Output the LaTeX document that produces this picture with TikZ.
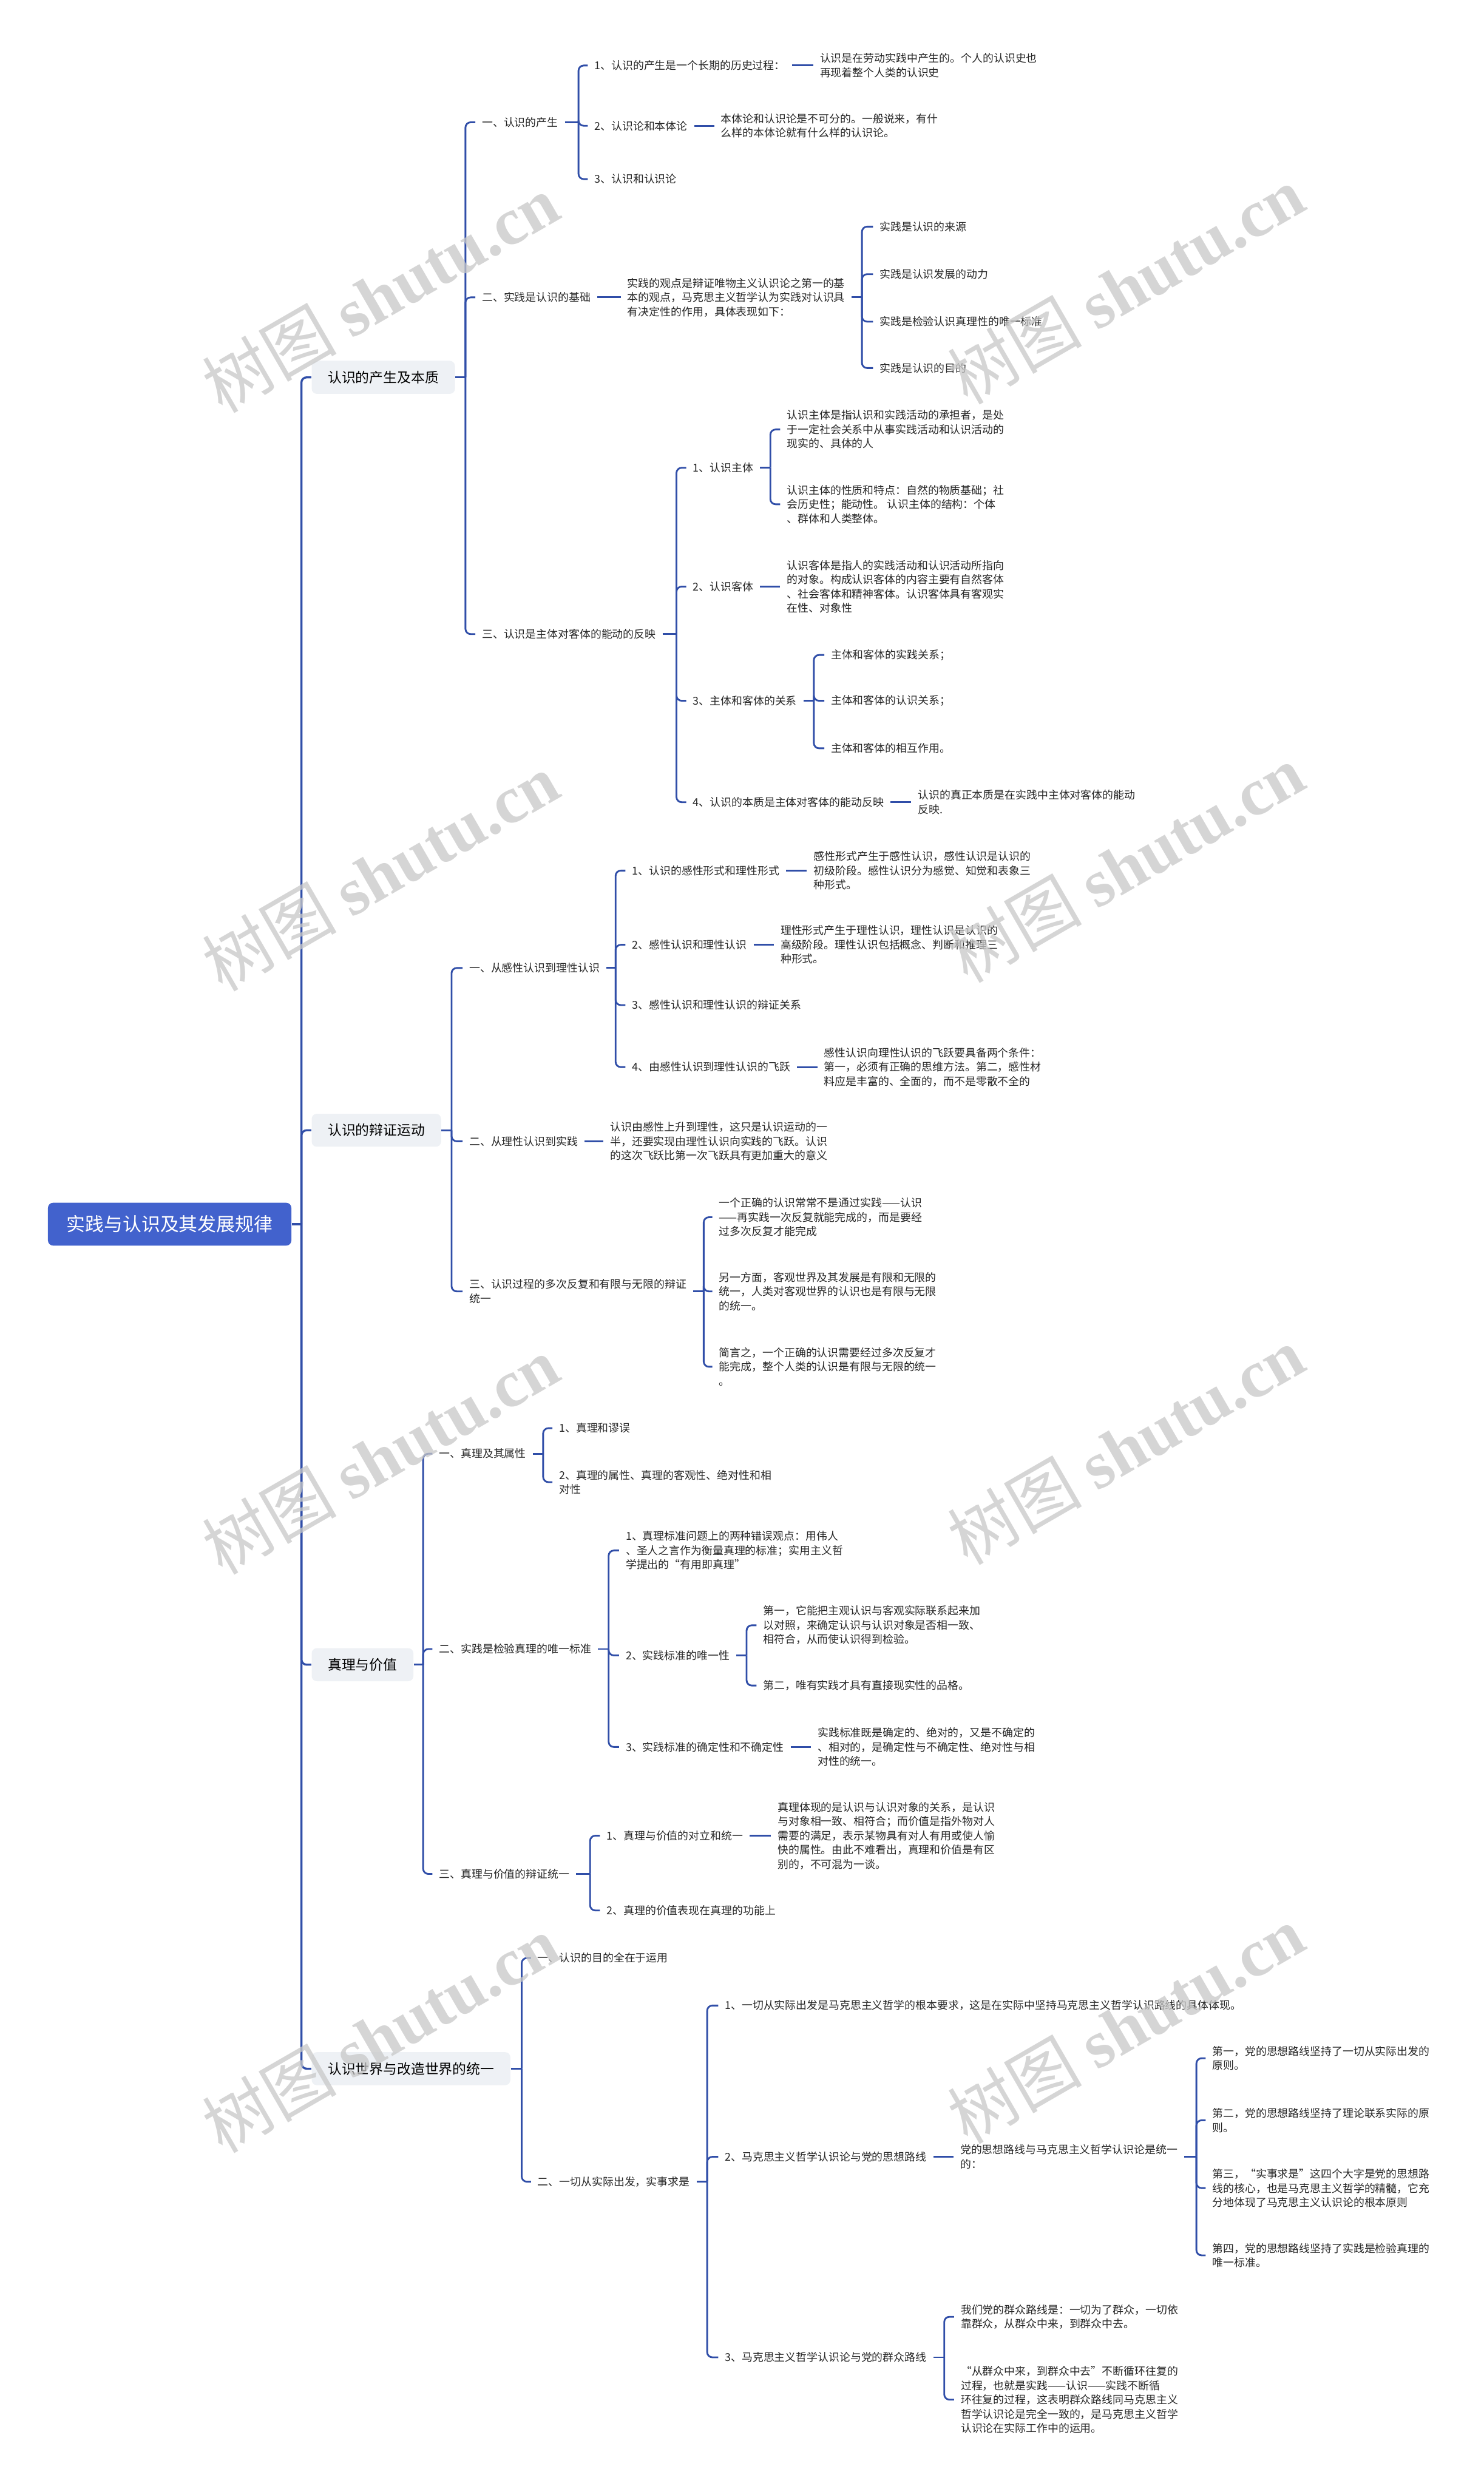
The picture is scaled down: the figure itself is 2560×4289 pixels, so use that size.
\documentclass[tikz,border=0pt]{standalone}
\usepackage{fontspec}
\setmainfont{Noto Sans CJK SC}
\newfontfamily\wmlatin{Liberation Serif}
\usetikzlibrary{positioning}
\definecolor{mapblue}{RGB}{66, 98, 205}
\definecolor{linkblue}{RGB}{48, 78, 168}
\definecolor{topicgray}{RGB}{238, 241, 245}
\definecolor{wmgray}{RGB}{200, 200, 200}
\newcommand{\leaffont}{\fontsize{5.33}{7}\selectfont}

\begin{document}
\begin{tikzpicture}[x=0.1mm, y=-0.1mm,
  rootbox/.style={fill=mapblue, rounded corners=0.9mm, text=white, anchor=west, minimum width=42mm, minimum height=7.4mm, font=\fontsize{9.2}{11}\selectfont},
  topic/.style={fill=topicgray, rounded corners=0.9mm, anchor=west, inner xsep=2.8mm, minimum height=5.7mm, font=\fontsize{6.8}{8}\selectfont},
  leaf/.style={anchor=west, inner xsep=1.1mm, inner ysep=0.6mm, align=left, font=\leaffont, text=black!85},
  link/.style={draw=linkblue, line width=0.85pt, rounded corners=0.9mm},
  wmark/.style={rotate=30, text=wmgray, opacity=0.75, font=\fontsize{33}{33}\selectfont}
]
  \useasboundingbox[fill=white] (0,0) rectangle (2560,4289);

  % root and main topics
  \node[rootbox] (root) at (82,2112) {实践与认识及其发展规律};
  \node[topic] (ta) at (537,651) {认识的产生及本质};
  \node[topic] (tb) at (537,1950) {认识的辩证运动};
  \node[topic] (tc) at (537,2872) {真理与价值};
  \node[topic] (td) at (537,3569) {认识世界与改造世界的统一};

  % --- 认识的产生及本质
  \node[leaf] (a1) at (820,211) {一、认识的产生};
  \node[leaf] (a11) at (1014,113) {1、认识的产生是一个长期的历史过程：};
  \node[leaf] (a11x) at (1403,113) {认识是在劳动实践中产生的。个人的认识史也\\再现着整个人类的认识史};
  \node[leaf] (a12) at (1014,217) {2、认识论和本体论};
  \node[leaf] (a12x) at (1232,217) {本体论和认识论是不可分的。一般说来，有什\\么样的本体论就有什么样的认识论。};
  \node[leaf] (a13) at (1014,309) {3、认识和认识论};
  \node[leaf] (a2) at (820,513) {二、实践是认识的基础};
  \node[leaf] (a2x) at (1071,513) {实践的观点是辩证唯物主义认识论之第一的基\\本的观点，马克思主义哲学认为实践对认识具\\有决定性的作用，具体表现如下：};
  \node[leaf] (a21) at (1506,391) {实践是认识的来源};
  \node[leaf] (a22) at (1506,473) {实践是认识发展的动力};
  \node[leaf] (a23) at (1506,555) {实践是检验认识真理性的唯一标准};
  \node[leaf] (a24) at (1506,635) {实践是认识的目的};
  \node[leaf] (a3) at (820,1094) {三、认识是主体对客体的能动的反映};
  \node[leaf] (a31) at (1184,807) {1、认识主体};
  \node[leaf] (a311) at (1346,741) {认识主体是指认识和实践活动的承担者，是处\\于一定社会关系中从事实践活动和认识活动的\\现实的、具体的人};
  \node[leaf] (a312) at (1346,870) {认识主体的性质和特点：自然的物质基础；社\\会历史性；能动性。 认识主体的结构：个体\\、群体和人类整体。};
  \node[leaf] (a32) at (1184,1012) {2、认识客体};
  \node[leaf] (a32x) at (1346,1012) {认识客体是指人的实践活动和认识活动所指向\\的对象。构成认识客体的内容主要有自然客体\\、社会客体和精神客体。认识客体具有客观实\\在性、对象性};
  \node[leaf] (a33) at (1184,1209) {3、主体和客体的关系};
  \node[leaf] (a331) at (1422,1130) {主体和客体的实践关系；};
  \node[leaf] (a332) at (1422,1209) {主体和客体的认识关系；};
  \node[leaf] (a333) at (1422,1291) {主体和客体的相互作用。};
  \node[leaf] (a34) at (1184,1384) {4、认识的本质是主体对客体的能动反映};
  \node[leaf] (a34x) at (1572,1384) {认识的真正本质是在实践中主体对客体的能动\\反映.};

  % --- 认识的辩证运动
  \node[leaf] (b1) at (798,1670) {一、从感性认识到理性认识};
  \node[leaf] (b11) at (1079,1502) {1、认识的感性形式和理性形式};
  \node[leaf] (b11x) at (1392,1502) {感性形式产生于感性认识，感性认识是认识的\\初级阶段。感性认识分为感觉、知觉和表象三\\种形式。};
  \node[leaf] (b12) at (1079,1630) {2、感性认识和理性认识};
  \node[leaf] (b12x) at (1335,1630) {理性形式产生于理性认识，理性认识是认识的\\高级阶段。理性认识包括概念、判断和推理三\\种形式。};
  \node[leaf] (b13) at (1079,1734) {3、感性认识和理性认识的辩证关系};
  \node[leaf] (b14) at (1079,1841) {4、由感性认识到理性认识的飞跃};
  \node[leaf] (b14x) at (1410,1841) {感性认识向理性认识的飞跃要具备两个条件：\\第一，必须有正确的思维方法。第二，感性材\\料应是丰富的、全面的，而不是零散不全的};
  \node[leaf] (b2) at (798,1969) {二、从理性认识到实践};
  \node[leaf] (b2x) at (1041,1969) {认识由感性上升到理性，这只是认识运动的一\\半，还要实现由理性认识向实践的飞跃。认识\\的这次飞跃比第一次飞跃具有更加重大的意义};
  \node[leaf] (b3) at (798,2228) {三、认识过程的多次反复和有限与无限的辩证\\统一};
  \node[leaf] (b31) at (1229,2100) {一个正确的认识常常不是通过实践——认识\\——再实践一次反复就能完成的，而是要经\\过多次反复才能完成};
  \node[leaf] (b32) at (1229,2228) {另一方面，客观世界及其发展是有限和无限的\\统一，人类对客观世界的认识也是有限与无限\\的统一。};
  \node[leaf] (b33) at (1229,2358) {简言之，一个正确的认识需要经过多次反复才\\能完成，整个人类的认识是有限与无限的统一\\。};

  % --- 真理与价值
  \node[leaf] (c1) at (746,2508) {一、真理及其属性};
  \node[leaf] (c11) at (953,2464) {1、真理和谬误};
  \node[leaf] (c12) at (953,2557) {2、真理的属性、真理的客观性、绝对性和相\\对性};
  \node[leaf] (c2) at (746,2845) {二、实践是检验真理的唯一标准};
  \node[leaf] (c21) at (1068,2675) {1、真理标准问题上的两种错误观点：用伟人\\、圣人之言作为衡量真理的标准；实用主义哲\\学提出的“有用即真理”};
  \node[leaf] (c22) at (1068,2856) {2、实践标准的唯一性};
  \node[leaf] (c221) at (1305,2804) {第一，它能把主观认识与客观实际联系起来加\\以对照，来确定认识与认识对象是否相一致、\\相符合，从而使认识得到检验。};
  \node[leaf] (c222) at (1305,2908) {第二，唯有实践才具有直接现实性的品格。};
  \node[leaf] (c23) at (1068,3014) {3、实践标准的确定性和不确定性};
  \node[leaf] (c23x) at (1399,3014) {实践标准既是确定的、绝对的，又是不确定的\\、相对的，是确定性与不确定性、绝对性与相\\对性的统一。};
  \node[leaf] (c3) at (746,3233) {三、真理与价值的辩证统一};
  \node[leaf] (c31) at (1035,3167) {1、真理与价值的对立和统一};
  \node[leaf] (c31x) at (1330,3167) {真理体现的是认识与认识对象的关系，是认识\\与对象相一致、相符合；而价值是指外物对人\\需要的满足，表示某物具有对人有用或使人愉\\快的属性。由此不难看出，真理和价值是有区\\别的，不可混为一谈。};
  \node[leaf] (c32) at (1035,3296) {2、真理的价值表现在真理的功能上};

  % --- 认识世界与改造世界的统一
  \node[leaf] (d1) at (916,3378) {一、认识的目的全在于运用};
  \node[leaf] (d2) at (916,3764) {二、一切从实际出发，实事求是};
  \node[leaf] (d21) at (1239,3460) {1、一切从实际出发是马克思主义哲学的根本要求，这是在实际中坚持马克思主义哲学认识路线的具体体现。};
  \node[leaf] (d22) at (1239,3721) {2、马克思主义哲学认识论与党的思想路线};
  \node[leaf] (d22x) at (1645,3721) {党的思想路线与马克思主义哲学认识论是统一\\的：};
  \node[leaf] (d221) at (2080,3551) {第一，党的思想路线坚持了一切从实际出发的\\原则。};
  \node[leaf] (d222) at (2080,3658) {第二，党的思想路线坚持了理论联系实际的原\\则。};
  \node[leaf] (d223) at (2080,3775) {第三，“实事求是”这四个大字是党的思想路\\线的核心，也是马克思主义哲学的精髓，它充\\分地体现了马克思主义认识论的根本原则};
  \node[leaf] (d224) at (2080,3891) {第四，党的思想路线坚持了实践是检验真理的\\唯一标准。};
  \node[leaf] (d23) at (1239,4067) {3、马克思主义哲学认识论与党的群众路线};
  \node[leaf] (d231) at (1646,3997) {我们党的群众路线是：一切为了群众，一切依\\靠群众，从群众中来，到群众中去。};
  \node[leaf] (d232) at (1646,4140) {“从群众中来，到群众中去”不断循环往复的\\过程，也就是实践——认识——实践不断循\\环往复的过程，这表明群众路线同马克思主义\\哲学认识论是完全一致的，是马克思主义哲学\\认识论在实际工作中的运用。};

  % branch points
  \coordinate (sR) at (520,2112);
  \coordinate (sA) at (803,651);
  \coordinate (sA1) at (998,211);
  \coordinate (sA2) at (1487,513);
  \coordinate (sA3) at (1167,1094);
  \coordinate (sA31) at (1329,807);
  \coordinate (sA33) at (1404,1209);
  \coordinate (sB) at (779,1950);
  \coordinate (sB1) at (1062,1670);
  \coordinate (sB3) at (1214,2228);
  \coordinate (sC) at (730,2872);
  \coordinate (sC1) at (937,2508);
  \coordinate (sC2) at (1050,2845);
  \coordinate (sC22) at (1288,2856);
  \coordinate (sC3) at (1018,3233);
  \coordinate (sD) at (900,3569);
  \coordinate (sD2) at (1220,3764);
  \coordinate (sD22) at (2064,3721);
  \coordinate (sD23) at (1629,4067);

  % connectors
  \draw[link, line width=1pt] (root.east) -- (sR);
  \foreach \c in {ta,tb,tc,td} \draw[link, line width=1pt] (sR) |- (\c.west);
  \foreach \p/\s/\cs in {ta/sA/{a1,a2,a3}, a1/sA1/{a11,a12,a13}, a2x/sA2/{a21,a22,a23,a24},
      a3/sA3/{a31,a32,a33,a34}, a31/sA31/{a311,a312}, a33/sA33/{a331,a332,a333},
      tb/sB/{b1,b2,b3}, b1/sB1/{b11,b12,b13,b14}, b3/sB3/{b31,b32,b33},
      tc/sC/{c1,c2,c3}, c1/sC1/{c11,c12}, c2/sC2/{c21,c22,c23}, c22/sC22/{c221,c222}, c3/sC3/{c31,c32},
      td/sD/{d1,d2}, d2/sD2/{d21,d22,d23}, d22x/sD22/{d221,d222,d223,d224}, d23/sD23/{d231,d232}} {
    \draw[link] (\p.east) -- (\s);
    \foreach \c in \cs \draw[link] (\s) |- (\c.west);
  }
  \foreach \p in {a11,a12,a2,a32,a34,b11,b12,b14,b2,c23,c31,d22}
    \draw[link] (\p.east) -- (\p x.west);

  % watermarks
  \foreach \wx/\wy in {656/506, 1942/492, 656/1504, 1942/1490, 656/2511, 1942/2494, 656/3509, 1942/3493}
    \node[wmark] at (\wx,\wy) {树图 {\wmlatin\bfseries shutu.cn}};
\end{tikzpicture}
\end{document}
